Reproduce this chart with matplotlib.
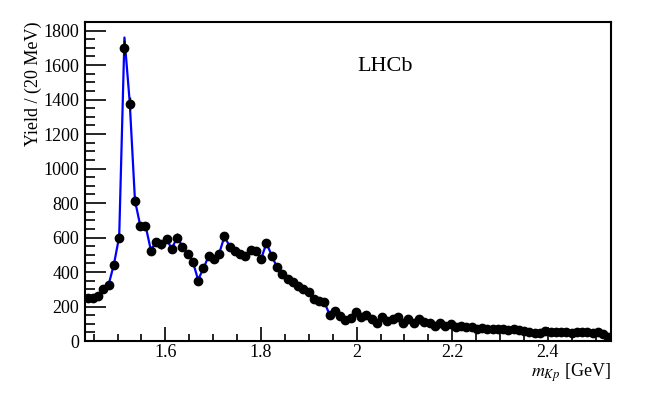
import numpy as np
import matplotlib.pyplot as plt
from matplotlib.ticker import MultipleLocator

plt.rcParams['font.family'] = ['Liberation Serif', 'DejaVu Serif']
plt.rcParams['mathtext.fontset'] = 'stix'

# m(Kp) range and binning
m_lo, m_hi = 1.432, 2.532
n_bins = 100

# yields per bin (data points)
yields = [247, 247, 261, 301, 325, 441, 599, 1702, 1376, 812,
          667, 667, 524, 572, 560, 591, 531, 599, 547, 502,
          458, 350, 421, 492, 473, 507, 607, 547, 522, 504,
          491, 530, 522, 476, 570, 493, 427, 388, 359, 340,
          321, 301, 284, 245, 234, 226, 151, 174, 145, 122,
          135, 166, 137, 151, 126, 106, 137, 118, 129, 137,
          106, 126, 102, 126, 112, 102, 89, 102, 89, 99,
          83, 89, 79, 83, 72, 77, 72, 70, 72, 68,
          64, 68, 64, 60, 54, 48, 44, 60, 52, 52,
          50, 50, 48, 52, 52, 54, 48, 50, 40, 22]

# fit curve values per bin (blue line)
fit = [245, 248, 262, 300, 328, 445, 605, 1760, 1385, 815,
       670, 670, 530, 570, 565, 590, 535, 600, 550, 505,
       460, 355, 420, 492, 475, 507, 605, 550, 522, 505,
       492, 528, 520, 478, 568, 495, 428, 390, 360, 340,
       322, 302, 285, 247, 235, 226, 153, 172, 146, 124,
       136, 164, 138, 150, 126, 108, 136, 119, 128, 136,
       107, 125, 103, 125, 112, 102, 90, 101, 90, 98,
       84, 88, 80, 83, 73, 76, 72, 70, 71, 68,
       64, 67, 64, 60, 54, 49, 45, 58, 52, 52,
       50, 50, 48, 51, 52, 53, 48, 49, 40, 24]

edges = np.linspace(m_lo, m_hi, n_bins + 1)
centers = 0.5 * (edges[1:] + edges[:-1])
errors = np.sqrt(yields)

xtick_vals = [1.6, 1.8, 2.0, 2.2, 2.4]
xtick_labels = ['1.6', '1.8', '2', '2.2', '2.4']
ytick_vals = list(range(0, 1801, 200))

fig = plt.figure(figsize=(6.55, 3.99), dpi=100)
ax = fig.add_axes([85 / 655, 1 - 341 / 399, 526 / 655, 319 / 399])

ax.plot(centers, fit, color='#0000ff', lw=1.6, zorder=2)
ax.errorbar(centers, yields, yerr=errors, fmt='o', color='black',
            ms=6, elinewidth=1, capsize=0, zorder=3)

ax.set_xlim(m_lo, m_hi)
ax.set_ylim(0, 1850)
ax.set_xticks(xtick_vals)
ax.set_xticklabels(xtick_labels)
ax.set_yticks(ytick_vals)
ax.xaxis.set_minor_locator(MultipleLocator(0.05))
ax.yaxis.set_minor_locator(MultipleLocator(50))

ax.tick_params(which='both', direction='in', top=False, right=False,
               labelsize=13, width=1.2)
ax.tick_params(axis='y', which='major', length=15, pad=4)
ax.tick_params(axis='y', which='minor', length=7.5)
ax.tick_params(axis='x', which='major', length=10, pad=2)
ax.tick_params(axis='x', which='minor', length=5)
for s in ax.spines.values():
    s.set_linewidth(1.5)

ax.set_ylabel('Yield / (20 MeV)', loc='top', fontsize=13)
ax.yaxis.set_label_coords(-0.082, 1.0)
ax.set_xlabel(r'$m_{Kp}$ [GeV]', loc='right', fontsize=13)
ax.xaxis.set_label_coords(1.0, -0.1)
ax.xaxis.label.set_va('center')

ax.text(0.571, 0.859, 'LHCb', transform=ax.transAxes, fontsize=16,
        ha='center', va='center')

fig.savefig('out.png', dpi=100)
